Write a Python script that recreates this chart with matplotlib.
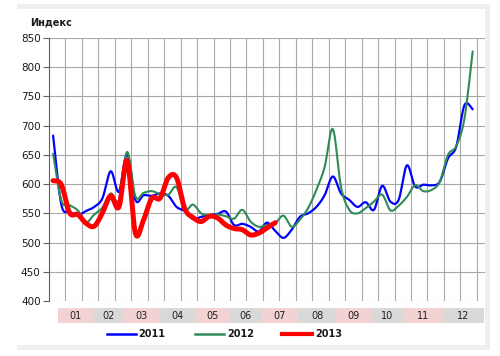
import numpy as np
import matplotlib
matplotlib.use("Agg")
import matplotlib.pyplot as plt
from matplotlib.lines import Line2D
from matplotlib.patches import Rectangle

# ---------------- data ----------------
y2011 = [683, 565, 553, 547, 554, 561, 576, 622, 587, 652, 573, 581, 580,
         584, 580, 561, 554, 540, 544, 547, 549, 553, 530, 532, 527, 519,
         534, 520, 508, 522, 544, 550, 561, 581, 613, 584, 573, 561, 569,
         556, 597, 570, 573, 632, 596, 599, 598, 604, 644, 664, 735, 728]
y2012 = [652, 572, 564, 555, 535, 548, 560, 584, 573, 655, 579, 585, 588,
         583, 582, 595, 556, 565, 550, 547, 548, 545, 541, 556, 536, 527,
         530, 533, 546, 527, 539, 559, 590, 629, 694, 595, 556, 550, 559,
         570, 582, 555, 563, 578, 598, 588, 590, 604, 650, 665, 712, 827]
y2013 = [606, 599, 551, 548, 533, 528, 551, 580, 561, 640, 516, 539, 576,
         576, 611, 611, 558, 543, 536, 545, 542, 530, 524, 522, 513, 516,
         525, 534]
series_names = ["2011", "2012", "2013"]
months = ["01", "02", "03", "04", "05", "06", "07", "08", "09", "10", "11", "12"]
y_ticks = [400, 450, 500, 550, 600, 650, 700, 750, 800, 850]
n_categories = 53

# ---------------- helpers ----------------
def smooth(xs, ys, n=24):
    xs = np.asarray(xs, float)
    ys = np.asarray(ys, float)
    P = np.column_stack([xs, ys])
    out = [P[0]]
    m = len(P)
    for i in range(m - 1):
        p0 = P[i - 1] if i > 0 else P[i]
        p1 = P[i]
        p2 = P[i + 1]
        p3 = P[i + 2] if i + 2 < m else P[i + 1]
        c1 = p1 + (p2 - p0) / 6.0
        c2 = p2 - (p3 - p1) / 6.0
        t = np.linspace(0, 1, n)[1:, None]
        seg = ((1 - t) ** 3) * p1 + 3 * ((1 - t) ** 2) * t * c1 + 3 * (1 - t) * t ** 2 * c2 + t ** 3 * p2
        out.extend(seg)
    out = np.array(out)
    return out[:, 0], out[:, 1]

W, H = 500, 356
fig = plt.figure(figsize=(W / 100, H / 100), dpi=100)
fig.patch.set_facecolor("white")

def fx(px):
    return px / W

def fy(py):
    return 1 - py / H

# outer frame (light gray strips)
frame_col = "#efefef"
fig.add_artist(Rectangle((fx(17), fy(9)), fx(472), 5 / H, transform=fig.transFigure,
                         facecolor=frame_col, edgecolor="none", zorder=0))
fig.add_artist(Rectangle((fx(17), fy(350)), fx(472), 5 / H, transform=fig.transFigure,
                         facecolor=frame_col, edgecolor="none", zorder=0))
fig.add_artist(Rectangle((fx(485), fy(350)), fx(4.5), (346) / H, transform=fig.transFigure,
                         facecolor=frame_col, edgecolor="none", zorder=0))

left, right, top, bottom = 49, 485, 38, 301
ax = fig.add_axes([fx(left), fy(bottom), fx(right - left), (bottom - top) / H])
ax.set_facecolor("none")

grid_col = "#a8a8a8"
ax.set_xlim(0, n_categories)
ax.set_ylim(400, 850)
ax.set_yticks(y_ticks)
ax.set_yticklabels([str(v) for v in y_ticks], fontsize=7.5, color="#1a1a1a")
ax.set_xticks(np.arange(2, 53, 2))
ax.set_xticklabels([])
ax.tick_params(axis="x", length=0)
ax.tick_params(axis="y", length=4, width=0.8, color="#606060", pad=2)
ax.grid(True, axis="both", color=grid_col, linewidth=0.8)
for s in ["top", "right", "bottom"]:
    ax.spines[s].set_visible(False)
ax.spines["left"].set_color("#606060")
ax.spines["left"].set_linewidth(0.8)

colors = ["#0000ff", "#2e8b57", "#ff0000"]
widths = [1.6, 1.5, 3.6]
for name, ys, c, lw in zip(series_names, [y2011, y2012, y2013], colors, widths):
    xs = np.arange(len(ys)) + 0.5
    sx, sy = smooth(xs, ys)
    ax.plot(sx, sy, color=c, lw=lw, solid_capstyle="round", solid_joinstyle="round", zorder=3)

# y-axis title
fig.text(fx(30), fy(22.5), "Индекс", fontsize=7, fontweight="bold", color="#1a1a1a",
         ha="left", va="center")

# month band
band_edges = [58, 93, 124, 159, 195, 230, 262, 298, 336, 371, 403, 443, 484]
band_top, band_bot = 308, 323
for i, m in enumerate(months):
    x0, x1 = band_edges[i], band_edges[i + 1]
    col = "#f2d2d2" if i % 2 == 0 else "#d9d9d9"
    fig.add_artist(Rectangle((fx(x0), fy(band_bot)), fx(x1 - x0), (band_bot - band_top) / H,
                             transform=fig.transFigure, facecolor=col, edgecolor="none"))
    fig.text(fx((x0 + x1) / 2), fy((band_top + band_bot) / 2 + 0.5), m, fontsize=7,
             color="#222222", ha="center", va="center")

# legend
leg_y = 334
leg_items = [(107, 136, 138), (195, 224, 227), (282, 312, 315)]
for (l0, l1, tx), name, c, lw in zip(leg_items, series_names, colors, [1.8, 1.8, 3.0]):
    fig.add_artist(Line2D([fx(l0), fx(l1)], [fy(leg_y), fy(leg_y)], transform=fig.transFigure,
                          color=c, lw=lw))
    fig.text(fx(tx), fy(leg_y), name, fontsize=7, fontweight="bold", color="#1a1a1a",
             ha="left", va="center")

fig.savefig("out.png", dpi=100, facecolor="white")
